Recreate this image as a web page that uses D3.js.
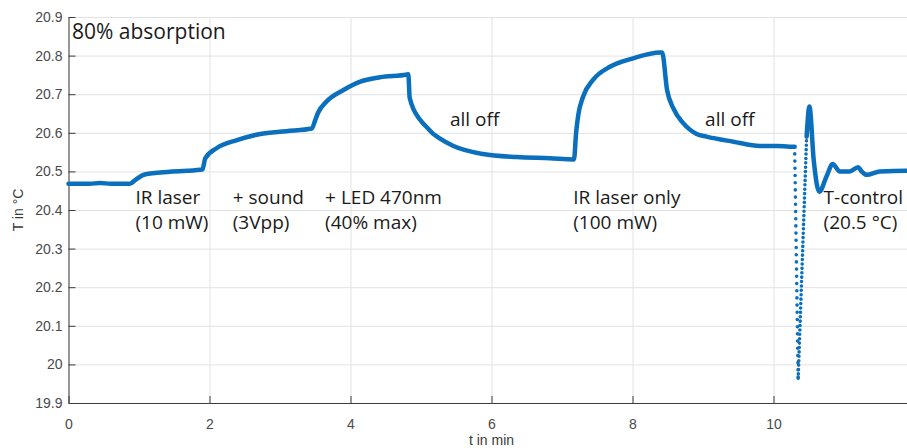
<!DOCTYPE html>
<html>
<head>
<meta charset="utf-8">
<script src="https://cdn.jsdelivr.net/npm/d3@7"></script>
<style>
  body { margin: 0; background: #fff; }
  svg { display: block; }
  .tick text { font-family: "Liberation Sans", Arial, sans-serif; font-size: 14px; fill: #4a4a4a; }
  .note { font-family: "Open Sans", sans-serif; font-size: 19px; fill: #1a1a1a; }
</style>
</head>
<body>
<div id="chart"></div>
<script>
// temperature trace (t in min, T in °C)
const traceTime = [0.00, 0.30, 0.45, 0.60, 0.87, 0.95, 1.08, 1.44, 1.87, 1.90, 1.94, 2.10, 2.39, 2.72,
  3.09, 3.45, 3.50, 3.54, 3.66, 3.90, 4.13, 4.42, 4.80, 4.82, 4.84, 4.99, 5.08, 5.17, 5.27, 5.46,
  5.88, 6.36, 6.83, 7.17, 7.20, 7.23, 7.30, 7.44, 7.68, 8.01, 8.39, 8.42, 8.49, 8.58, 8.72, 8.91,
  9.05, 9.43, 9.81, 10.05, 10.23, 10.30];
const traceTemp = [20.468, 20.468, 20.470, 20.468, 20.468, 20.478, 20.492, 20.499, 20.504, 20.505, 20.534, 20.560, 20.581, 20.597,
  20.604, 20.611, 20.633, 20.652, 20.681, 20.711, 20.732, 20.744, 20.751, 20.752, 20.690, 20.633, 20.615, 20.598, 20.585, 20.566,
  20.545, 20.537, 20.534, 20.531, 20.600, 20.645, 20.694, 20.737, 20.771, 20.793, 20.808, 20.808, 20.711, 20.663, 20.625, 20.597,
  20.590, 20.577, 20.566, 20.566, 20.564, 20.564];

// sparse samples where the controller kicks in
const fallTime = [10.30, 10.35];
const fallTemp = [20.564, 19.964];
const riseTime = [10.35, 10.47];
const riseTemp = [19.964, 20.590];

// settling under temperature control
const settleTime = [10.47, 10.51, 10.57, 10.65, 10.75, 10.84, 10.94, 11.08, 11.20, 11.25, 11.32, 11.51, 11.89, 12.00];
const settleTemp = [20.590, 20.668, 20.530, 20.447, 20.486, 20.519, 20.500, 20.500, 20.511, 20.500, 20.491, 20.500, 20.502, 20.502];

const xTicks = [0, 2, 4, 6, 8, 10];
const yTicks = [19.9, 20, 20.1, 20.2, 20.3, 20.4, 20.5, 20.6, 20.7, 20.8, 20.9];

// annotation texts, anchored in data coordinates
const notes = [
  {t: 0.95, T: 20.415, lines: ["IR laser", "(10 mW)"]},
  {t: 2.33, T: 20.415, lines: ["+ sound", "(3Vpp)"]},
  {t: 3.64, T: 20.415, lines: ["+ LED 470nm", "(40% max)"]},
  {t: 7.16, T: 20.415, lines: ["IR laser only", "(100 mW)"]},
  {t: 10.71, T: 20.415, lines: ["T-control", "(20.5 °C)"]},
  {t: 5.41, T: 20.618, lines: ["all off"]},
  {t: 9.03, T: 20.618, lines: ["all off"]}
];

const W = 907, H = 448;
const margin = {top: 17, left: 68.5, bottom: 45};
const plotW = 846;   // axis runs past the right edge of the picture
const blue = "#0a6fbd";

const svg = d3.select("#chart").append("svg")
    .attr("width", W)
    .attr("height", H);

const x = d3.scaleLinear().domain([0, 12]).range([margin.left, margin.left + plotW]);
const y = d3.scaleLinear().domain([19.9, 20.9]).range([H - margin.bottom, margin.top]);

// grid
svg.append("g")
    .attr("transform", "translate(0," + (H - margin.bottom) + ")")
    .call(d3.axisBottom(x).tickValues(xTicks).tickSize(-(H - margin.bottom - margin.top)).tickFormat(""))
    .call(g => g.select(".domain").remove())
    .call(g => g.selectAll("line").attr("stroke", "#e2e2e2"));
svg.append("g")
    .attr("transform", "translate(" + margin.left + ",0)")
    .call(d3.axisLeft(y).tickValues(yTicks).tickSize(-plotW).tickFormat(""))
    .call(g => g.select(".domain").remove())
    .call(g => g.selectAll("line").attr("stroke", "#e2e2e2"));

// axes with inward ticks
svg.append("g")
    .attr("transform", "translate(0," + (H - margin.bottom) + ")")
    .call(d3.axisBottom(x).tickValues(xTicks).tickSizeInner(-7).tickSizeOuter(0).tickPadding(16).tickFormat(d3.format("d")))
    .call(g => g.selectAll("line, .domain").attr("stroke", "#3c3c3c"));
svg.append("g")
    .attr("transform", "translate(" + margin.left + ",0)")
    .call(d3.axisLeft(y).tickValues(yTicks).tickSizeInner(-7).tickSizeOuter(0).tickPadding(6).tickFormat(d => d3.format("~g")(d)))
    .call(g => g.selectAll("line, .domain").attr("stroke", "#3c3c3c"));

// axis titles
svg.append("text")
    .attr("x", x(6)).attr("y", 445)
    .attr("text-anchor", "middle")
    .style("font-family", "Liberation Sans, Arial, sans-serif")
    .style("font-size", "14px").style("fill", "#3a3a3a")
    .text("t in min");
svg.append("text")
    .attr("transform", "translate(23," + y(20.4) + ") rotate(-90)")
    .attr("text-anchor", "middle")
    .style("font-family", "Liberation Sans, Arial, sans-serif")
    .style("font-size", "14px").style("fill", "#3a3a3a")
    .text("T in °C");

// trace
const line = d3.line().x(d => x(d[0])).y(d => y(d[1])).curve(d3.curveMonotoneX);
const zip = (a, b) => a.map((v, i) => [v, b[i]]);

svg.append("path")
    .attr("d", line(zip(traceTime, traceTemp)))
    .attr("fill", "none").attr("stroke", blue).attr("stroke-width", 4.5)
    .attr("stroke-linejoin", "round").attr("stroke-linecap", "round");

svg.append("path")
    .attr("d", d3.line().x(d => x(d[0])).y(d => y(d[1]))(zip(fallTime, fallTemp)))
    .attr("fill", "none").attr("stroke", blue).attr("stroke-width", 3.6)
    .attr("stroke-linecap", "round").attr("stroke-dasharray", "0 7.2");

svg.append("path")
    .attr("d", d3.line().x(d => x(d[0])).y(d => y(d[1]))(zip(riseTime, riseTemp)))
    .attr("fill", "none").attr("stroke", blue).attr("stroke-width", 3.6)
    .attr("stroke-linecap", "round").attr("stroke-dasharray", "0 4.4");

svg.append("path")
    .attr("d", line(zip(settleTime, settleTemp)))
    .attr("fill", "none").attr("stroke", blue).attr("stroke-width", 4.5)
    .attr("stroke-linejoin", "round").attr("stroke-linecap", "round");

// title and annotations
svg.append("text")
    .attr("class", "note")
    .attr("x", 72).attr("y", 39)
    .style("font-size", "21px")
    .text("80% absorption");

notes.forEach(n => {
  const t = svg.append("text").attr("class", "note")
      .attr("x", x(n.t)).attr("y", y(n.T));
  n.lines.forEach((s, i) => {
    t.append("tspan").attr("x", x(n.t)).attr("dy", i === 0 ? 0 : 24.5).text(s);
  });
});
</script>
</body>
</html>
